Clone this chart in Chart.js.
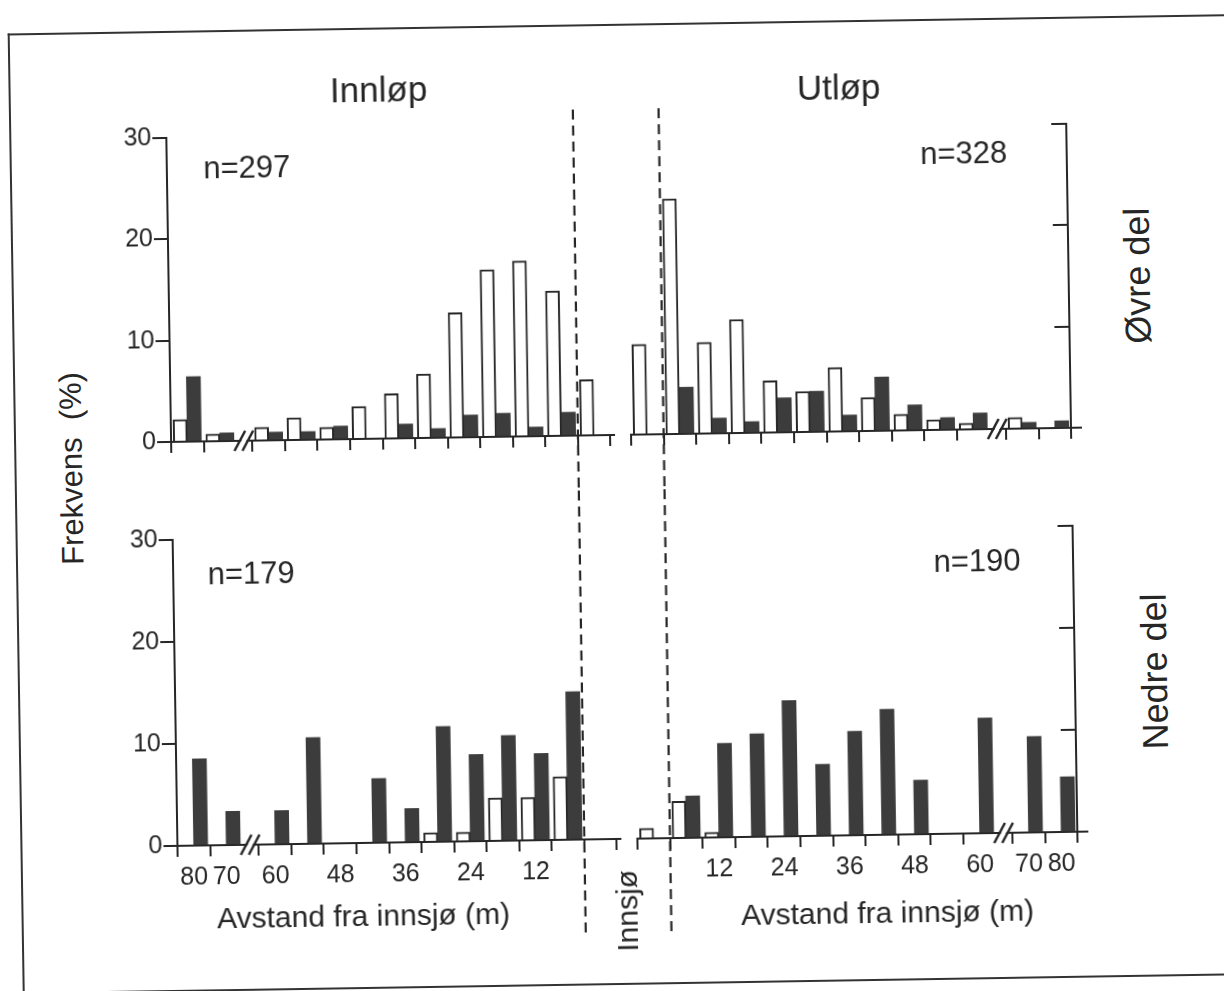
<!DOCTYPE html>
<html>
<head>
<meta charset="utf-8">
<script src="https://cdn.jsdelivr.net/npm/chart.js@4.4.0/dist/chart.umd.min.js"></script>
<style>
  html, body { margin: 0; padding: 0; background: #fff; }
  body { width: 1224px; height: 991px; overflow: hidden; position: relative;
         font-family: 'Liberation Sans', Arial, sans-serif; color: #262626; }
  /* the scanned page is turned a little, so the whole sheet is turned */
  #page { position: absolute; left: 0; top: 0; width: 1224px; height: 991px;
          transform: rotate(-0.9deg); transform-origin: 612px 495.5px; }
  #frame { position: absolute; left: 15px; top: 24px; width: 1260px; height: 961px;
           border: 2.5px solid #333; border-right: none; box-sizing: border-box; }
  canvas { position: absolute; }
  .t { position: absolute; white-space: pre; line-height: 1; transform: translate(-50%, -50%); }
  .v { transform: translate(-50%, -50%) rotate(-90deg); }
</style>
</head>
<body>
<div id="page">
  <div id="frame"></div>
  <canvas id="tl"></canvas>
  <canvas id="tr"></canvas>
  <canvas id="bl"></canvas>
  <canvas id="br"></canvas>

  <div class="t" style="left:385px; top:85px; font-size:35px">Innløp</div>
  <div class="t" style="left:845px; top:90px; font-size:35px">Utløp</div>
  <div class="t" style="left:252px; top:161px; font-size:31px">n=297</div>
  <div class="t" style="left:969px; top:158px; font-size:31px">n=328</div>
  <div class="t" style="left:250px; top:567px; font-size:31px">n=179</div>
  <div class="t" style="left:976px; top:566px; font-size:31px">n=190</div>
  <div class="t v" style="left:72px; top:460px; font-size:31px">Frekvens  (%)</div>
  <div class="t v" style="left:1141px; top:284px; font-size:36px">Øvre del</div>
  <div class="t v" style="left:1152px; top:680px; font-size:36px">Nedre del</div>
  <div class="t v" style="left:621px; top:911px; font-size:30px">Innsjø</div>
  <div class="t" style="left:357px; top:912px; font-size:30px">Avstand fra innsjø (m)</div>
  <div class="t" style="left:881px; top:917px; font-size:30px">Avstand fra innsjø (m)</div>
</div>

<script>
// distance classes, from the lake outwards (6 m classes, then 70 and 80 m)
const binLabels = ['Innsjø', '0-6', '6-12', '12-18', '18-24', '24-30', '30-36',
                   '36-42', '42-48', '48-54', '54-60', '70', '80'];
const tickText = ['12', '24', '36', '48', '60', '70', '80'];
const tickBins = [2, 4, 6, 8, 10, 11, 12];

// Innløp, øvre del (n=297)
const inOpenUpper   = [5.5, 14.3, 17.3, 16.5, 12.3, 6.3, 4.4, 3.2, 1.2, 2.2, 1.3, 0.7, 2.2];
const inFilledUpper = [0, 2.3, 0.9, 2.3, 2.2, 0.9, 1.4, 0, 1.3, 0.8, 0.8, 0.8, 6.4];
// Utløp, øvre del (n=328)
const outOpenUpper   = [8.9, 23.2, 9.0, 11.2, 5.1, 4.0, 6.3, 3.3, 1.6, 1.0, 0.6, 1.1, 0];
const outFilledUpper = [0, 4.6, 1.5, 1.1, 3.4, 4.0, 1.6, 5.3, 2.5, 1.2, 1.6, 0.6, 0.7];
// Innløp, nedre del (n=179)
const inOpenLower   = [0, 6.2, 4.2, 4.2, 0.9, 0.9, 0, 0, 0, 0, 0, 0, 0];
const inFilledLower = [0, 14.5, 8.5, 10.3, 8.5, 11.3, 3.3, 6.3, 0, 10.4, 3.3, 3.3, 8.5];
// Utløp, nedre del (n=190)
const outOpenLower   = [1.0, 3.6, 0.5, 0, 0, 0, 0, 0, 0, 0, 0, 0, 0];
const outFilledLower = [0, 4.1, 9.2, 10.1, 13.3, 7.0, 10.2, 12.3, 5.3, 0, 11.3, 9.4, 5.4];

const ink = '#262626';
const darkFill = '#3c3c3c';
Chart.defaults.font.family = "'Liberation Sans', Arial, sans-serif";
Chart.defaults.color = ink;

// position of a class on the x axis (one class = 1 unit, half a unit for the axis break)
function binPos(i, side) {
  const p = i + 0.5 + (i >= 11 ? 0.5 : 0);
  return side === 'left' ? 13.5 - p : p;
}
function breakAt(side) { return (binPos(10, side) + binPos(11, side)) / 2; }
function lakeEdge(side) { return (binPos(0, side) + binPos(1, side)) / 2; }
function edgeTicks(side) {
  const s = new Set();
  binLabels.forEach((_, i) => { const p = binPos(i, side); s.add(p - 0.5); s.add(p + 0.5); });
  const skip = breakAt(side) - 0.25;
  return [...s].filter(v => Math.abs(v - skip) > 1e-6).sort((a, b) => a - b);
}

const breakMark = {
  id: 'breakMark',
  afterDraw(chart, args, o) {
    const ctx = chart.ctx, x = chart.scales.x.getPixelForValue(o.at), y = chart.chartArea.bottom;
    ctx.save();
    ctx.fillStyle = '#fff';
    ctx.beginPath();
    ctx.moveTo(x - 8, y + 9); ctx.lineTo(x + 2, y - 9); ctx.lineTo(x + 7, y - 9); ctx.lineTo(x - 3, y + 9);
    ctx.closePath(); ctx.fill();
    ctx.strokeStyle = ink; ctx.lineWidth = 2.5;
    [-4, 4].forEach(d => {
      ctx.beginPath(); ctx.moveTo(x + d - 6, y + 10); ctx.lineTo(x + d + 5, y - 10); ctx.stroke();
    });
    ctx.restore();
  }
};

const lakeLine = {
  id: 'lakeLine',
  afterDraw(chart, args, o) {
    const ctx = chart.ctx, x = chart.scales.x.getPixelForValue(o.at);
    ctx.save();
    ctx.strokeStyle = ink; ctx.lineWidth = 2.2; ctx.setLineDash([10, 6]);
    ctx.beginPath(); ctx.moveTo(x, o.from); ctx.lineTo(x, o.to); ctx.stroke();
    ctx.restore();
  }
};

function toPoints(vals, side) {
  return vals.map((v, i) => ({ x: binPos(i, side), y: v })).filter(p => p.y > 0);
}

function makePanel(id, box, side, openVals, filledVals, lower) {
  const cv = document.getElementById(id);
  cv.width = box.w; cv.height = box.h;
  cv.style.left = box.left + 'px'; cv.style.top = box.top + 'px';
  const xMax = side === 'left' ? 13.6 : 13.8;
  const edges = edgeTicks(side);
  const labelAt = {};
  tickBins.forEach((b, k) => { labelAt[binPos(b, side)] = tickText[k]; });

  const scales = {
    x: {
      type: 'linear', min: 0, max: xMax, offset: false, z: 1,
      afterBuildTicks: s => { s.ticks = edges.map(v => ({ value: v })); },
      afterFit: s => { s.height = 11; },
      ticks: { display: false },
      grid: { offset: false, drawOnChartArea: false, drawTicks: true, tickLength: 11, color: ink, lineWidth: 2 },
      border: { display: true, color: ink, width: 2 }
    },
    y: {
      min: 0, max: 30,
      position: side === 'left' ? 'left' : { x: 13.5 },
      ticks: { stepSize: 10, display: side === 'left', padding: 1, font: { size: 25 }, color: ink },
      grid: { drawOnChartArea: false, tickLength: 14, color: ink, lineWidth: 2 },
      border: { display: true, color: ink, width: 2 },
      afterFit: s => { if (side === 'left') s.width = 72; }
    }
  };
  if (lower) {
    scales.x2 = {
      type: 'linear', axis: 'x', position: 'bottom', weight: 1, min: 0, max: xMax, offset: false,
      afterBuildTicks: s => {
        s.ticks = Object.keys(labelAt).map(Number).sort((a, b) => a - b).map(v => ({ value: v }));
      },
      afterFit: s => { s.height = 40; },
      ticks: { autoSkip: false, maxRotation: 0, padding: 6, font: { size: 25 }, color: ink,
               callback: v => labelAt[v] },
      grid: { display: false, drawTicks: false, offset: false },
      border: { display: false }
    };
  }

  return new Chart(cv, {
    type: 'bar',
    data: {
      datasets: [
        { label: 'Åpne søyler', data: toPoints(openVals, side), backgroundColor: '#fff',
          borderColor: ink, borderWidth: 2, barThickness: 14 },
        { label: 'Fylte søyler', data: toPoints(filledVals, side), backgroundColor: darkFill,
          borderWidth: 0, barThickness: 14 }
      ]
    },
    options: {
      responsive: false,
      animation: false,
      layout: { autoPadding: false, padding: box.pad },
      scales: scales,
      plugins: {
        legend: { display: false },
        tooltip: { enabled: false },
        breakMark: { at: breakAt(side) },
        lakeLine: { at: lakeEdge(side), from: box.lineFrom, to: box.lineTo }
      }
    },
    plugins: [breakMark, lakeLine]
  });
}

makePanel('tl', { left: 100, top: 100, w: 560, h: 390, pad: { left: 0, right: 560 - 72 - 442.7, top: 31, bottom: 44 },
                  lineFrom: 9, lineTo: 390 }, 'left', inOpenUpper, inFilledUpper, false);
makePanel('bl', { left: 100, top: 490, w: 560, h: 460, pad: { left: 0, right: 560 - 72 - 442.7, top: 43, bottom: 60 },
                  lineFrom: 0, lineTo: 447 }, 'left', inOpenLower, inFilledLower, true);
makePanel('tr', { left: 600, top: 100, w: 520, h: 390, pad: { left: 32, right: 520 - 32 - 449.9, top: 31, bottom: 44 },
                  lineFrom: 9, lineTo: 390 }, 'right', outOpenUpper, outFilledUpper, false);
makePanel('br', { left: 600, top: 490, w: 520, h: 460, pad: { left: 32, right: 520 - 32 - 449.9, top: 43, bottom: 60 },
                  lineFrom: 0, lineTo: 447 }, 'right', outOpenLower, outFilledLower, true);
</script>
</body>
</html>
